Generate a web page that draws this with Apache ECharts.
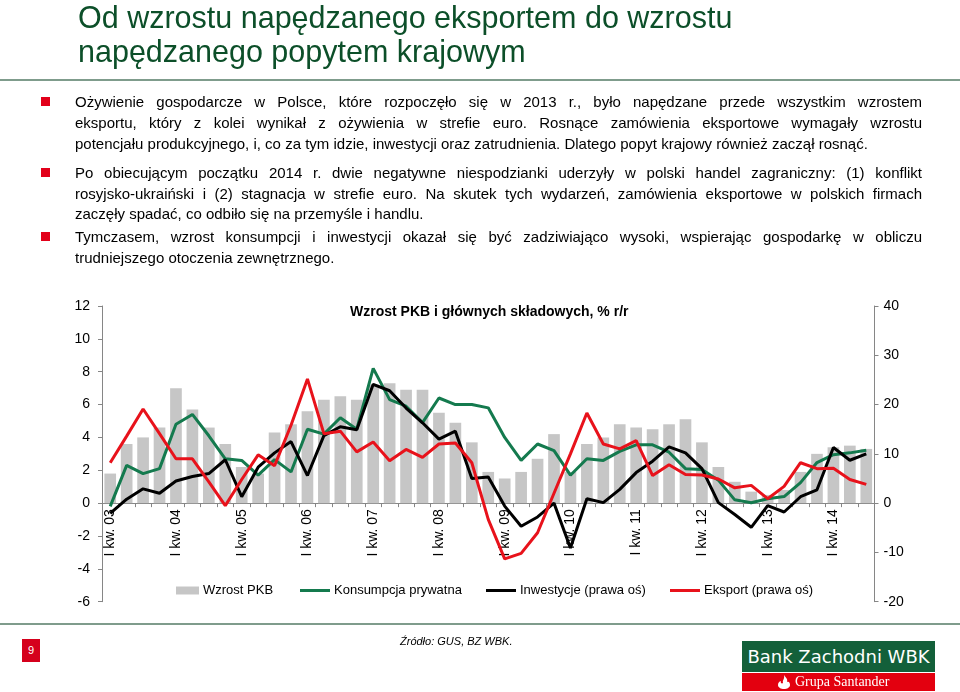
<!DOCTYPE html>
<html>
<head>
<meta charset="utf-8">
<script src="https://cdn.jsdelivr.net/npm/echarts@6/dist/echarts.min.js"></script>
<style>
  html, body { margin:0; padding:0; background:#fff; }
  body { width:960px; height:692px; position:relative; overflow:hidden; font-family:"Liberation Sans", Arial, sans-serif; }
  #chart { position:absolute; left:0; top:0; width:960px; height:692px; }
  #overlay { position:absolute; left:0; top:0; width:960px; height:692px; pointer-events:none; }
  .title { position:absolute; left:78px; color:#0c4f29; font-size:30.5px; line-height:33px; white-space:nowrap; }
  .rule { position:absolute; left:0; width:960px; height:2px; background:#7f9c8c; }
  .bullet { position:absolute; left:41px; width:9px; height:9px; background:#e2001a; }
  .ln { position:absolute; left:75px; font-size:15px; line-height:21px; white-space:nowrap; color:#000; }
  .src { position:absolute; left:400px; top:635px; font-size:11px; font-style:italic; color:#000; white-space:nowrap; }
  .page { position:absolute; left:22px; top:639px; width:18px; height:23px; background:#d5001c; color:#fff; font-size:11px; line-height:23px; text-align:center; }
  .logoG { position:absolute; left:742px; top:641px; width:193px; height:31px; background:#13603a; color:#fff; font-family:"DejaVu Sans", sans-serif; font-size:18px; line-height:31px; text-align:center; white-space:nowrap; }
  .logoR { position:absolute; left:742px; top:673px; width:193px; height:18px; background:#e3000f; color:#fff; font-family:"Liberation Serif", serif; font-size:14px; line-height:18px; white-space:nowrap; }
</style>
</head>
<body>
<div id="chart"></div>
<div id="overlay">
  <div class="title" style="top:1px">Od wzrostu napędzanego eksportem do wzrostu</div>
  <div class="title" style="top:35px">napędzanego popytem krajowym</div>
  <div class="rule" style="top:79px"></div>

  <div class="bullet" style="top:97px"></div>
  <div class="bullet" style="top:168px"></div>
  <div class="bullet" style="top:232px"></div>

  <div class="ln j" data-c="102.5">Ożywienie gospodarcze w Polsce, które rozpoczęło się w 2013 r., było napędzane przede wszystkim wzrostem</div>
  <div class="ln j" data-c="123.5">eksportu, który z kolei wynikał z ożywienia w strefie euro. Rosnące zamówienia eksportowe wymagały wzrostu</div>
  <div class="ln" data-c="144.5">potencjału produkcyjnego, i, co za tym idzie, inwestycji oraz zatrudnienia. Dlatego popyt krajowy również zaczął rosnąć.</div>

  <div class="ln j" data-c="173.5">Po obiecującym początku 2014 r. dwie negatywne niespodzianki uderzyły w polski handel zagraniczny: (1) konflikt</div>
  <div class="ln j" data-c="194.5">rosyjsko-ukraiński i (2) stagnacja w strefie euro. Na skutek tych wydarzeń, zamówienia eksportowe w polskich firmach</div>
  <div class="ln" data-c="215">zaczęły spadać, co odbiło się na przemyśle i handlu.</div>

  <div class="ln j" data-c="237.5">Tymczasem, wzrost konsumpcji i inwestycji okazał się być zadziwiająco wysoki, wspierając gospodarkę w obliczu</div>
  <div class="ln" data-c="258.5">trudniejszego otoczenia zewnętrznego.</div>

  <div class="rule" style="top:623px"></div>
  <div class="page">9</div>
  <div class="src">Źródło: GUS, BZ WBK.</div>
  <div class="logoG">Bank Zachodni WBK</div>
  <div class="logoR">
    <svg style="position:absolute;left:36px;top:2px" width="12" height="14" viewBox="0 0 12 14">
      <path d="M6 0 C8 3 10 4 9 7 C11 6 12 8 12 10 C12 12.5 9 14 6 14 C3 14 0 12.5 0 10 C0 8 1 6.5 3 6 C2 8 4 9 5 8 C4 5 7 4 6 0 Z" fill="#fff"/>
    </svg>
    <span style="position:absolute;left:53px;">Grupa Santander</span>
  </div>
</div>
<script>
// ---- data (Q1 2003 .. Q3 2014) ----
const categories = [
  'I kw. 03','II kw. 03','III kw. 03','IV kw. 03',
  'I kw. 04','II kw. 04','III kw. 04','IV kw. 04',
  'I kw. 05','II kw. 05','III kw. 05','IV kw. 05',
  'I kw. 06','II kw. 06','III kw. 06','IV kw. 06',
  'I kw. 07','II kw. 07','III kw. 07','IV kw. 07',
  'I kw. 08','II kw. 08','III kw. 08','IV kw. 08',
  'I kw. 09','II kw. 09','III kw. 09','IV kw. 09',
  'I kw. 10','II kw. 10','III kw. 10','IV kw. 10',
  'I kw. 11','II kw. 11','III kw. 11','IV kw. 11',
  'I kw. 12','II kw. 12','III kw. 12','IV kw. 12',
  'I kw. 13','II kw. 13','III kw. 13','IV kw. 13',
  'I kw. 14','II kw. 14','III kw. 14'
];
const gdp = [
  1.8, 3.6, 4.0, 4.6,
  7.0, 5.7, 4.6, 3.6,
  2.2, 1.8, 4.3, 4.8,
  5.6, 6.3, 6.5, 6.3,
  7.2, 7.3, 6.9, 6.9,
  5.5, 4.9, 3.7, 1.9,
  1.5, 1.9, 2.7, 4.2,
  1.9, 3.6, 4.0, 4.8,
  4.6, 4.5, 4.8, 5.1,
  3.7, 2.2, 1.3, 0.7,
  0.5, 0.8, 1.9, 3.0,
  3.4, 3.5, 3.3
];
const consumption = [
  -0.2, 2.3, 1.8, 2.1,
  4.8, 5.4, 4.1, 2.7,
  2.6, 1.7, 2.65, 1.9,
  4.5, 4.2, 5.2, 4.5,
  8.2, 6.3, 5.9, 4.9,
  6.4, 6.0, 6.0, 5.8,
  4.0, 2.6, 3.6, 3.2,
  1.7, 2.7, 2.6, 3.15,
  3.55, 3.55, 3.1, 2.1,
  2.05, 1.4, 0.2, 0.02,
  0.27, 0.4, 1.25, 2.47,
  2.95, 3.06, 3.22
];
const investment = [
  -2.1, 0.8, 2.9, 2.0,
  4.5, 5.4, 6.0, 8.8,
  1.3, 7.3, 10.2, 12.5,
  5.6, 13.7, 15.5, 14.9,
  24.1, 22.8, 19.3, 16.3,
  13.0, 14.6, 5.0, 5.3,
  -0.6, -4.7, -2.8, 0.0,
  -9.1, 0.9, 0.1, 2.8,
  6.2, 8.5, 11.4, 10.2,
  7.0, 0.1, -2.3, -4.9,
  -0.5, -1.8, 1.3, 2.7,
  11.3, 8.7, 10.0
];
const exports_ = [
  8.2, 13.6, 19.1, 14.1,
  9.0, 9.0, 4.3, -0.5,
  4.8, 9.8, 7.6, 15.8,
  25.2, 14.1, 14.6, 10.4,
  12.4, 8.6, 10.9, 9.3,
  12.0, 12.2, 8.2, -3.3,
  -11.3, -10.2, -6.0, 2.0,
  10.0, 18.3, 12.0, 11.0,
  12.7, 5.6, 7.8, 5.8,
  5.7, 4.9, 3.1, 3.6,
  0.9, 3.4, 8.2, 7.0,
  7.1, 4.8, 3.8
];
const seriesNames = ['Wzrost PKB', 'Konsumpcja prywatna', 'Inwestycje (prawa oś)', 'Eksport (prawa oś)'];
const chartTitle = 'Wzrost PKB i głównych składowych, % r/r';
const leftAxis = { min: -6, max: 12, interval: 2 };
const rightAxis = { min: -20, max: 40, interval: 10 };

// ---- justify text lines ----
document.querySelectorAll('.ln').forEach(el => {
  const c = parseFloat(el.dataset.c);
  el.style.top = (c - 11.8) + 'px';
  if (el.classList.contains('j')) {
    const target = 847;
    const w = el.getBoundingClientRect().width;
    const spaces = (el.textContent.match(/ /g) || []).length;
    if (spaces > 0) el.style.wordSpacing = ((target - w) / spaces) + 'px';
  }
});

// ---- chart ----
const chart = echarts.init(document.getElementById('chart'), null, { renderer: 'canvas' });
const axisColor = '#868686';
const txt = { color: '#000', fontFamily: 'Liberation Sans, Arial, sans-serif' };
const colors = ['#c6c6c6', '#147a4e', '#000000', '#e8121b'];

const gridTop = 306, gridBottom = 90.3;
const gridH = 692 - gridTop - gridBottom;
// distance of value 0 (left axis) above the grid bottom
const zeroOffset = gridH * (0 - leftAxis.min) / (leftAxis.max - leftAxis.min);

function legendItem(i, left, w, h) {
  return {
    data: [seriesNames[i]],
    left: left, top: 584,
    orient: 'horizontal',
    icon: 'rect',
    itemWidth: w, itemHeight: h,
    itemGap: 0,
    padding: 0,
    selectedMode: false,
    textStyle: Object.assign({ fontSize: 13, padding: [0, 0, 0, -1] }, txt)
  };
}

chart.setOption({
  animation: false,
  backgroundColor: 'transparent',
  color: colors,
  title: {
    text: chartTitle,
    left: 350, top: 305,
    padding: 0,
    textStyle: Object.assign({ fontSize: 14, fontWeight: 'bold' }, txt)
  },
  legend: [
    legendItem(0, 176, 23, 8),
    legendItem(1, 300, 30, 3),
    legendItem(2, 486, 30, 3),
    legendItem(3, 670, 30, 3)
  ],
  grid: { left: 102, right: 85.5, top: gridTop, bottom: gridBottom, outerBoundsMode: 'none' },
  xAxis: {
    type: 'category',
    data: categories,
    boundaryGap: true,
    position: 'bottom',
    offset: -zeroOffset,
    axisLine: { show: true, onZero: false, lineStyle: { color: axisColor, width: 1 } },
    axisTick: { show: true, interval: 0, length: 4, lineStyle: { color: axisColor } },
    axisLabel: Object.assign({ interval: 3, rotate: 90, fontSize: 14, margin: 6 }, txt),
    splitLine: { show: false }
  },
  yAxis: [
    {
      type: 'value', position: 'left',
      min: leftAxis.min, max: leftAxis.max, interval: leftAxis.interval,
      axisLine: { show: true, onZero: false, lineStyle: { color: axisColor } },
      axisTick: { show: true, length: 4, lineStyle: { color: axisColor } },
      axisLabel: Object.assign({ fontSize: 14, margin: 12 }, txt),
      splitLine: { show: false }
    },
    {
      type: 'value', position: 'right',
      min: rightAxis.min, max: rightAxis.max, interval: rightAxis.interval,
      axisLine: { show: true, onZero: false, lineStyle: { color: axisColor } },
      axisTick: { show: true, length: 4, lineStyle: { color: axisColor } },
      axisLabel: Object.assign({ fontSize: 14, margin: 9 }, txt),
      splitLine: { show: false }
    }
  ],
  series: [
    { name: seriesNames[0], type: 'bar', data: gdp, yAxisIndex: 0, barCategoryGap: '29%',
      itemStyle: { color: colors[0] }, z: 1 },
    { name: seriesNames[1], type: 'line', data: consumption, yAxisIndex: 0, symbol: 'none',
      lineStyle: { color: colors[1], width: 3 }, itemStyle: { color: colors[1] }, z: 3 },
    { name: seriesNames[2], type: 'line', data: investment, yAxisIndex: 1, symbol: 'none',
      lineStyle: { color: colors[2], width: 3 }, itemStyle: { color: colors[2] }, z: 4 },
    { name: seriesNames[3], type: 'line', data: exports_, yAxisIndex: 1, symbol: 'none',
      lineStyle: { color: colors[3], width: 3 }, itemStyle: { color: colors[3] }, z: 5 }
  ]
});
</script>
</body>
</html>
